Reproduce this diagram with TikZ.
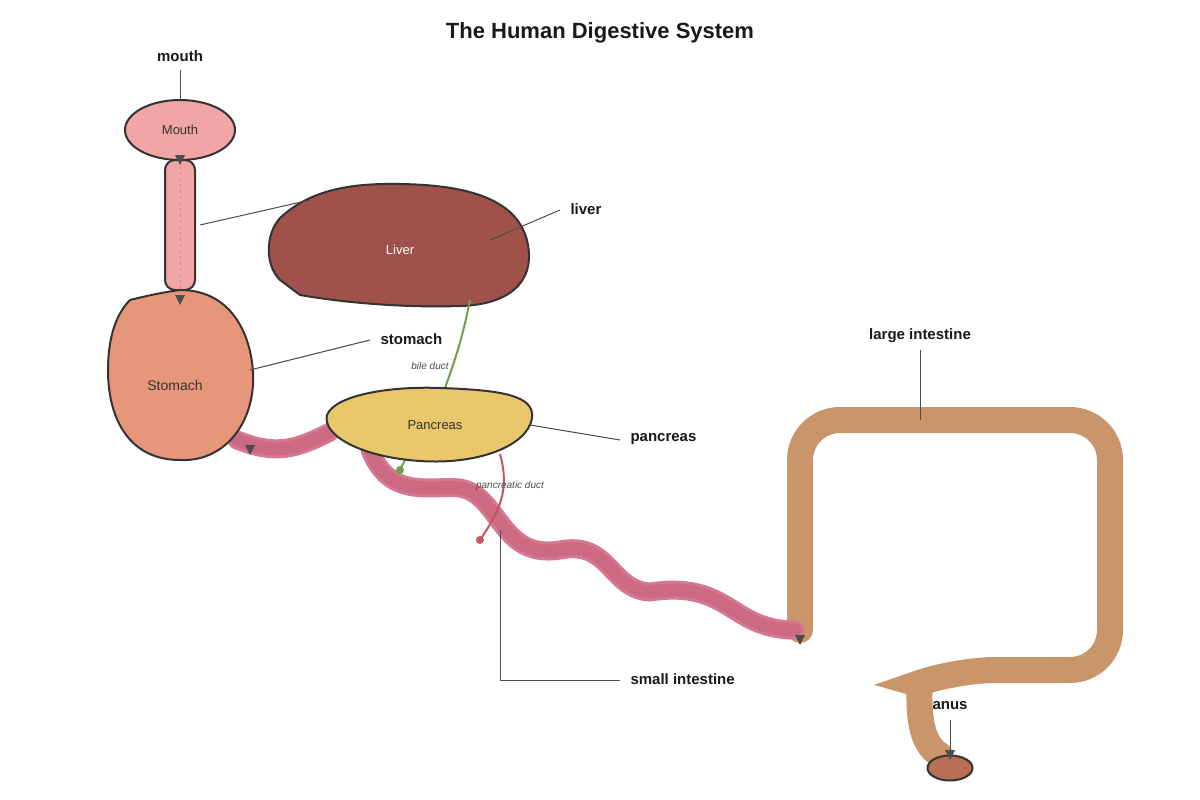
\documentclass[tikz,border=0pt]{standalone}
\usepackage{fontspec}
\setmainfont{Liberation Sans}
\usetikzlibrary{shapes.geometric}
\begin{document}
\begin{tikzpicture}[x=1pt,y=-1pt,
 organ/.style={draw=black!80,line width=2pt},
 lbl/.style={font=\fontsize{15}{18}\selectfont\bfseries,text=black!90},
 lead/.style={draw=black!70,line width=1pt},
 tip/.style={fill=black!70},
 duct/.style={font=\itshape\fontsize{10}{12}\selectfont,text=black!70}]
\useasboundingbox (0,0) rectangle (1200,800);
\node[font=\fontsize{22}{26}\selectfont\bfseries,text=black!90] (title) at (600,33) {The Human Digestive System};
% large intestine
\draw[line width=26pt,color={rgb,255:red,201;green,149;blue,107},line cap=round,rounded corners=40pt]
 (800,630) -- (800,420) -- (1110,420) -- (1110,670) -- (955,670) to[out=200,in=150] (940,755);
% small intestine
\draw[line width=19pt,color={rgb,255:red,214;green,120;blue,145},line cap=round]
 (237,440) .. controls (275,455) and (295,450) .. (330,432);
\draw[line width=19pt,color={rgb,255:red,214;green,120;blue,145},line cap=round]
 (370,450) .. controls (390,500) and (430,485) .. (460,488)
 .. controls (500,495) and (500,560) .. (560,550)
 .. controls (610,540) and (610,590) .. (650,592)
 .. controls (730,580) and (730,630) .. (795,630);
\draw[line width=13pt,color={rgb,255:red,204;green,106;blue,132},line cap=round]
 (237,440) .. controls (275,455) and (295,450) .. (330,432);
\draw[line width=13pt,color={rgb,255:red,204;green,106;blue,132},line cap=round]
 (370,450) .. controls (390,500) and (430,485) .. (460,488)
 .. controls (500,495) and (500,560) .. (560,550)
 .. controls (610,540) and (610,590) .. (650,592)
 .. controls (730,580) and (730,630) .. (795,630);
% mouth & esophagus
\node[organ,fill={rgb,255:red,242;green,165;blue,165},rounded corners=10pt,minimum width=30pt,minimum height=130pt] (eso) at (180,225) {};
\draw[dashed,color={rgb,255:red,215;green,140;blue,140},line width=1pt] (180,160) -- (180,290);
\node[organ,fill={rgb,255:red,242;green,165;blue,165},ellipse,inner sep=0pt,minimum width=110pt,minimum height=60pt,font=\fontsize{13}{15}\selectfont,text=black!80] (mouth) at (180,130) {Mouth};
% stomach
\draw[organ,fill={rgb,255:red,231;green,151;blue,121}] (130,300) .. controls (150,295) and (165,292) .. (180,290)
 .. controls (240,290) and (255,350) .. (253,385) .. controls (250,430) and (220,462) .. (180,460)
 .. controls (130,460) and (108,420) .. (108,370) .. controls (108,340) and (115,315) .. (130,300) -- cycle;
\node[font=\fontsize{14}{16}\selectfont,text=black!80] (stomach) at (175,385) {Stomach};
% liver
\draw[organ,fill={rgb,255:red,160;green,82;blue,74}] (300,295) -- (280,280) .. controls (265,265) and (265,235) .. (280,218)
 .. controls (310,190) and (350,183) .. (400,184) .. controls (470,185) and (520,200) .. (528,245)
 .. controls (535,285) and (505,305) .. (460,306) .. controls (400,308) and (340,302) .. (300,295) -- cycle;
\node[font=\fontsize{13}{15}\selectfont,text=white] (liver) at (400,250) {Liver};
% ducts
\draw[line width=2pt,color={rgb,255:red,106;green,160;blue,72}] (470,300) .. controls (462,340) and (455,360) .. (445,388);
\draw[line width=2pt,color={rgb,255:red,106;green,160;blue,72}] (405,460) -- (400,470);
\fill[color={rgb,255:red,106;green,160;blue,72}] (400,470) circle (4pt);
% pancreas
\draw[organ,fill={rgb,255:red,232;green,200;blue,106}] (327,415) .. controls (335,395) and (390,386) .. (440,388)
 .. controls (500,390) and (535,395) .. (532,418) .. controls (528,445) and (480,465) .. (420,461)
 .. controls (360,457) and (322,435) .. (327,415) -- cycle;
\node[font=\fontsize{13}{15}\selectfont,text=black!80] (pancreas) at (435,425) {Pancreas};
\draw[line width=2pt,color={rgb,255:red,196;green,86;blue,100}] (500,454) .. controls (510,490) and (500,510) .. (480,540);
\fill[color={rgb,255:red,196;green,86;blue,100}] (480,540) circle (4pt);
\node[duct] (bile) at (430,366) {bile duct};
\node[duct] (pduct) at (510,486) {pancreatic duct};
% anus
\node[organ,fill={rgb,255:red,184;green,111;blue,86},ellipse,inner sep=0pt,minimum width=45pt,minimum height=25pt] (anus) at (950,768) {};
% labels and leaders
\node[lbl] (lmouth) at (180,56) {mouth};
\draw[lead] (180,70) -- (mouth.north);
\draw[lead] (200,225) -- (310,200);
\node[lbl,anchor=west] (lliver) at (567,209) {liver};
\draw[lead] (560,210) -- (490,240);
\node[lbl,anchor=west] (lstomach) at (377,339) {stomach};
\draw[lead] (370,340) -- (250,370);
\node[lbl,anchor=west] (lpancreas) at (627,439) {pancreas};
\draw[lead] (620,440) -- (530,425);
\node[lbl,anchor=west] (lsmall) at (627,679) {small intestine};
\draw[lead] (620,680) -- (500,680) -- (500,530);
\node[lbl] (llarge) at (920,336) {large intestine};
\draw[lead] (920,350) -- (920,420);
\node[lbl] (lanus) at (950,706) {anus};
\draw[lead] (950,720) -- (950,752);
% triangles
\foreach \x/\y in {180/155,180/295,250/445,800/635,950/750}
 \fill[black!70] (\x-5,\y) -- (\x+5,\y) -- (\x,\y+10) -- cycle;
\end{tikzpicture}
\end{document}
